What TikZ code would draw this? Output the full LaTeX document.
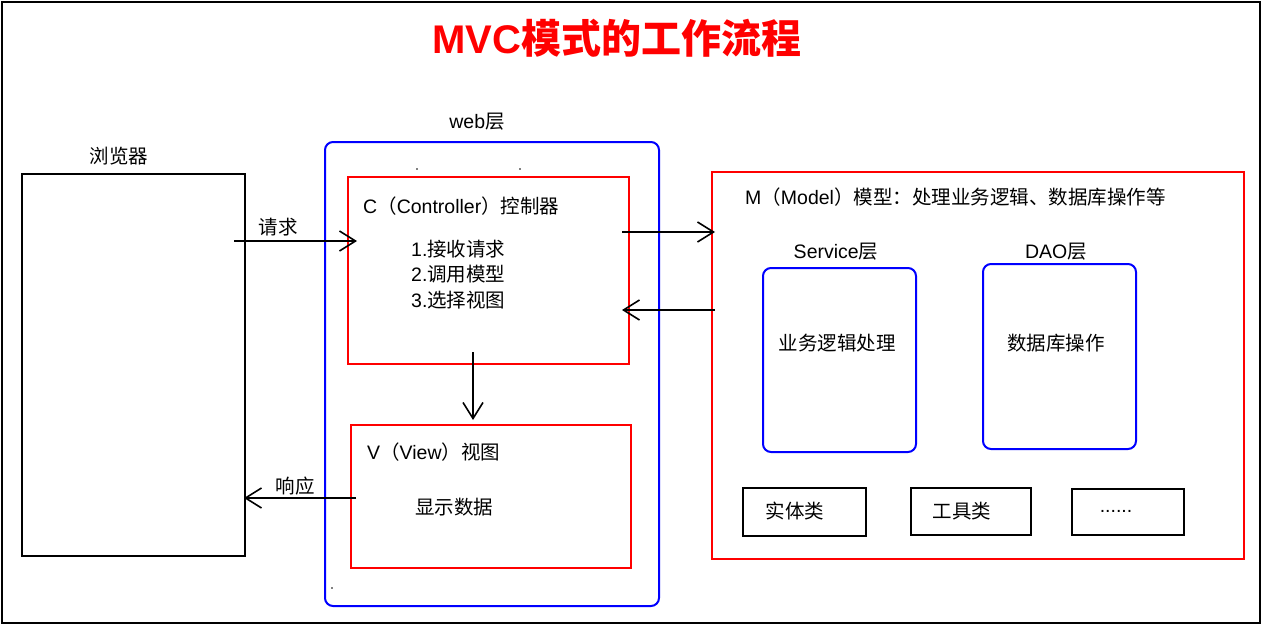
\documentclass[tikz,border=0pt]{standalone}
\usepackage{fontspec}
\setmainfont{Liberation Sans}
\newfontfamily\cjk{Noto Sans CJK SC}
\usetikzlibrary{arrows.meta}
\newcommand{\zh}[1]{{\cjk #1}}
\begin{document}
\begin{tikzpicture}[x=1pt,y=-1pt,
  txt/.style={font=\fontsize{19.5}{22}\selectfont, inner sep=0pt, text=black},
  outerframe/.style={draw=black, line width=1.8pt},
  redbox/.style={draw=red, line width=2pt, inner sep=0pt, anchor=north west},
  bluebox/.style={draw=blue, line width=2pt, rounded corners=8pt, inner sep=0pt, anchor=north west},
  blackbox/.style={draw=black, line width=2pt, inner sep=0pt, anchor=north west},
  flow/.style={draw=black, line width=2pt, -{Straight Barb[length=16pt,width=20pt,line width=1.6pt]}}
]
\useasboundingbox (0,0) rectangle (1262,624);
\node[outerframe, inner sep=0pt, anchor=north west, minimum width=1258pt, minimum height=621pt] (frame) at (1,1) {};

% title
\node[inner sep=0pt, text=red, font=\fontsize{40}{44}\selectfont\bfseries] (title) at (617,38) {MVC\zh{模式的工作流程}};

% browser
\node[blackbox, minimum width=223pt, minimum height=382pt] (browser) at (21,173) {};
\node[txt] (browserlbl) at (119,156) {\zh{浏览器}};

% web layer
\node[bluebox, minimum width=334pt, minimum height=464pt] (web) at (324,141) {};
\node[txt] (weblbl) at (477,122) {web\zh{层}};
\fill (417,169) circle (0.8pt);
\fill (520,169) circle (0.8pt);
\fill (332,588) circle (0.8pt);

% controller
\node[redbox, minimum width=281pt, minimum height=187pt] (ctrl) at (347,176) {};
\node[txt, anchor=west] (ctrltitle) at (363,206) {C\zh{（}Controller\zh{）控制器}};
\node[txt, anchor=west] (step1) at (411,249) {1.\zh{接收请求}};
\node[txt, anchor=west] (step2) at (411,274) {2.\zh{调用模型}};
\node[txt, anchor=west] (step3) at (411,300) {3.\zh{选择视图}};

% view
\node[redbox, minimum width=280pt, minimum height=143pt] (view) at (350,424) {};
\node[txt, anchor=west] (viewtitle) at (367,452) {V\zh{（}View\zh{）视图}};
\node[txt] (viewtext) at (454,507) {\zh{显示数据}};

% model
\node[redbox, minimum width=532pt, minimum height=387pt] (model) at (711,171) {};
\node[txt, anchor=west] (modeltitle) at (745,197) {M\zh{（}Model\zh{）模型：处理业务逻辑、数据库操作等}};
\node[txt] (servicelbl) at (836,252) {Service\zh{层}};
\node[txt] (daolbl) at (1056,252) {DAO\zh{层}};
\node[bluebox, minimum width=153pt, minimum height=184pt] (service) at (762,267) {};
\node[bluebox, minimum width=153pt, minimum height=185pt] (dao) at (982,263) {};
\node[txt] (servicetext) at (837,343) {\zh{业务逻辑处理}};
\node[txt] (daotext) at (1056,343) {\zh{数据库操作}};
\node[blackbox, minimum width=123pt, minimum height=48pt] (entity) at (742,487) {};
\node[blackbox, minimum width=120pt, minimum height=47pt] (tool) at (910,487) {};
\node[blackbox, minimum width=112pt, minimum height=46pt] (more) at (1071,488) {};
\node[txt] (entitytext) at (795,511) {\zh{实体类}};
\node[txt] (tooltext) at (962,511) {\zh{工具类}};
\node[txt] (moretext) at (1116,511) {......};

% connectors
\coordinate (reqS) at (234,241);
\coordinate (reqE) at (357,241);
\coordinate (c2mS) at (622,232);
\coordinate (c2mE) at (715,232);
\coordinate (m2cS) at (715,310);
\coordinate (m2cE) at (622,310);
\coordinate (downS) at (473,352);
\coordinate (downE) at (473,420);
\coordinate (respS) at (356,498);
\coordinate (respE) at (244,498);
\draw[flow] (reqS) -- (reqE);
\node[txt] (reqlbl) at (278,227) {\zh{请求}};
\draw[flow] (c2mS) -- (c2mE);
\draw[flow] (m2cS) -- (m2cE);
\draw[flow] (downS) -- (downE);
\draw[flow] (respS) -- (respE);
\node[txt] (resplbl) at (295,486) {\zh{响应}};
\end{tikzpicture}
\end{document}
